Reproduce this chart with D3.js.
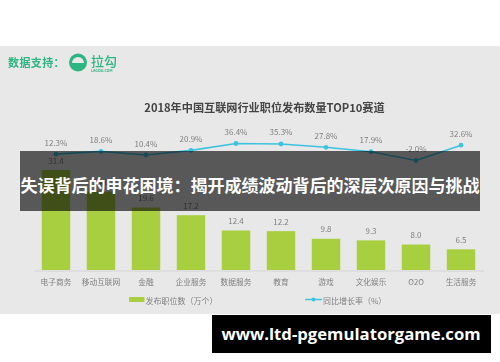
<!DOCTYPE html>
<html><head><meta charset="utf-8">
<script src="https://cdnjs.cloudflare.com/ajax/libs/d3/7.8.5/d3.min.js"></script>
<style>html,body{margin:0;padding:0;background:#fff;overflow:hidden}svg{display:block}</style>
</head><body><div id="c"></div>
<script>
const categories=["电子商务","移动互联网","金融","企业服务","数据服务","教育","游戏","文化娱乐","O2O","生活服务"];
const jobCounts=[31.4,24.6,19.6,17.2,12.4,12.2,9.8,9.3,8.0,6.5];
const growth=[12.3,18.6,10.4,20.9,36.4,35.3,27.8,17.9,-2.0,32.6];
const chartTitle="2018年中国互联网行业职位发布数量TOP10赛道";
const overlayTitle="失误背后的申花困境：揭开成绩波动背后的深层次原因与挑战";
const siteUrl="www.ltd-pgemulatorgame.com";
const supportLabel="数据支持：";
const logoName="拉勾", logoSub="LAGOU.COM";
const legendBar="发布职位数（万个）", legendLine="同比增长率（%）";
const FONT='"Noto Sans CJK SC","Noto Sans",sans-serif';

const svg=d3.select("#c").append("svg").attr("width",500).attr("height",362).style("font-family",FONT);
const defs=svg.append("defs");
defs.append("filter").attr("id","soft").append("feGaussianBlur").attr("stdDeviation",0.35);

svg.append("rect").attr("x",0).attr("y",46).attr("width",500).attr("height",268).attr("fill","#e8e8e8");
const g=svg.append("g").attr("filter","url(#soft)");

// logo
g.append("text").attr("x",8).attr("y",67).attr("font-size",11).attr("letter-spacing",0.4).attr("font-weight",700).attr("fill","#2fb584").text(supportLabel);
g.append("circle").attr("cx",78).attr("cy",62.5).attr("r",9).attr("fill","#2fb584");
g.append("path").attr("d",d3.arc()({innerRadius:0,outerRadius:6,startAngle:-Math.PI/2,endAngle:Math.PI/2})).attr("transform","translate(78,63)").attr("fill","#e8e8e8");
g.append("text").attr("x",91).attr("y",66).attr("font-size",13).attr("font-weight",500).attr("fill","#2fb584").text(logoName);
g.append("text").attr("x",91).attr("y",71.5).attr("font-size",3.6).attr("font-weight",700).attr("fill","#2fb584").text(logoSub);

g.append("text").attr("x",264.5).attr("y",112).attr("text-anchor","middle").attr("font-size",11.15).attr("font-weight",700).attr("fill","#444").text(chartTitle);

const x=d3.scaleBand().domain(categories).range([33.5,483.5]).paddingInner(0.367).paddingOuter(0.183);
const y=d3.scaleLinear().domain([0,31.4]).range([270,170]);
const yG=d3.scaleLinear().domain([-2,36.4]).range([160.5,143.5]);
const cx=c=>x(c)+x.bandwidth()/2;

g.selectAll("rect.bar").data(categories).join("rect").attr("class","bar")
 .attr("x",c=>x(c)).attr("width",x.bandwidth())
 .attr("y",(c,i)=>y(jobCounts[i])).attr("height",(c,i)=>270-y(jobCounts[i]))
 .attr("fill","#a8cf3f");
g.selectAll("text.val").data(categories).join("text").attr("class","val")
 .attr("x",cx).attr("y",(c,i)=>y(jobCounts[i])-6.5).attr("text-anchor","middle")
 .attr("font-size",8).attr("fill","#808080").text((c,i)=>jobCounts[i].toFixed(1));

const axis=g.append("g").attr("transform","translate(0,270.5)").call(d3.axisBottom(x).tickSize(0).tickPadding(9));
axis.select(".domain").attr("stroke","#cfcfcf").attr("stroke-width",0.8);
axis.selectAll("text").attr("font-size",7.7).attr("fill","#808080").attr("font-family",FONT);

const line=d3.line().x((d,i)=>cx(categories[i])).y(d=>yG(d));
g.append("path").datum(growth).attr("d",line).attr("fill","none").attr("stroke","#3cc3de").attr("stroke-width",1.6);
g.selectAll("circle.pt").data(growth).join("circle").attr("class","pt")
 .attr("cx",(d,i)=>cx(categories[i])).attr("cy",d=>yG(d)).attr("r",2.4).attr("fill","#3cc3de");
g.selectAll("text.pct").data(growth).join("text").attr("class","pct")
 .attr("x",(d,i)=>cx(categories[i])).attr("y",d=>yG(d)-8.5).attr("text-anchor","middle")
 .attr("font-size",8).attr("fill","#808080").text(d=>d.toFixed(1)+"%");

// legend
g.append("rect").attr("x",129).attr("y",297).attr("width",15.5).attr("height",5).attr("fill","#a8cf3f");
g.append("text").attr("x",145.5).attr("y",304).attr("font-size",8).attr("fill","#808080").text(legendBar);
g.append("line").attr("x1",305).attr("x2",322).attr("y1",299.5).attr("y2",299.5).attr("stroke","#3cc3de").attr("stroke-width",1.5);
g.append("circle").attr("cx",313.5).attr("cy",299.5).attr("r",2).attr("fill","#3cc3de");
g.append("text").attr("x",323).attr("y",304).attr("font-size",8).attr("fill","#808080").text(legendLine);

// overlay
svg.append("rect").attr("x",20).attr("y",151).attr("width",460).attr("height",60).attr("fill","rgba(0,0,0,0.62)");
svg.append("text").attr("x",250).attr("y",192).attr("text-anchor","middle").attr("font-size",17).attr("font-weight",700).attr("fill","#fff").text(overlayTitle);

// url
svg.append("rect").attr("x",212).attr("y",315).attr("width",279).attr("height",38).attr("fill","#000");
svg.append("text").attr("x",351).attr("y",340).attr("text-anchor","middle").attr("font-size",16.7).attr("font-weight",700).attr("fill","#fff").attr("font-family",'"Open Sans",sans-serif').text(siteUrl);
</script></body></html>
